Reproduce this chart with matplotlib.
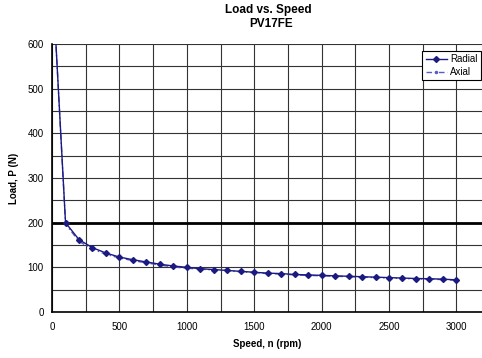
import matplotlib
matplotlib.use("Agg")
from matplotlib import pyplot as plt

plt.rcParams["font.family"] = ["Liberation Sans", "DejaVu Sans"]

speed = [20, 100, 200, 300, 400, 500, 600, 700, 800, 900, 1000,
         1100, 1200, 1300, 1400, 1500, 1600, 1700, 1800, 1900, 2000,
         2100, 2200, 2300, 2400, 2500, 2600, 2700, 2800, 2900, 3000]
radial = [650, 200, 162, 144, 132, 123, 117, 112, 107, 103, 100,
          97, 95, 93, 91, 89, 87, 86, 84, 83, 82,
          81, 80, 79, 78, 77, 76, 75, 74.5, 73.5, 72]
axial = [650, 197, 158, 141, 129, 121, 115, 110, 105, 101, 98,
         96, 94, 92, 90, 88, 86, 85, 83, 82, 81,
         80, 79, 78, 77, 76, 75, 74, 73.5, 72.5, 71]

fig = plt.figure(figsize=(4.82, 3.58), dpi=100)
ax = fig.add_axes([0.108, 0.1285, 0.892, 0.7485])

ax.plot(speed, axial, linestyle=(0, (4, 2, 1, 2)), color="#5a5ac8", lw=1.0,
        marker="o", markersize=1.5, label="Axial", zorder=3)
ax.plot(speed, radial, "-", color="#1a1a80", lw=1.0,
        marker="D", markersize=3, label="Radial", zorder=4)

ax.set_xlim(0, 3190)
ax.set_ylim(0, 600)
ax.set_xticks(range(0, 3001, 500))
ax.set_xticks(range(0, 3190, 250), minor=True)
ax.set_yticks(range(0, 601, 100))
ax.set_yticks(range(0, 601, 50), minor=True)
ax.grid(True, which="both", color="#333333", lw=0.8)
ax.axhline(200, color="black", lw=2, zorder=2)
ax.tick_params(which="minor", length=0)
ax.tick_params(which="major", length=0, labelsize=7)
ax.tick_params(axis="x", pad=7)
ax.tick_params(axis="y", pad=6)

for s in ["top", "right"]:
    ax.spines[s].set_visible(False)
for s in ["left", "bottom"]:
    ax.spines[s].set_linewidth(1.2)

ax.set_xlabel("Speed, n (rpm)", fontsize=7, fontweight="bold", labelpad=5)
ax.set_ylabel("Load, P (N)", fontsize=7, fontweight="bold", labelpad=6)
fig.text(0.557, 0.972, "Load vs. Speed", fontsize=8.5, fontweight="bold",
         ha="center", va="center")
fig.text(0.562, 0.933, "PV17FE", fontsize=8.5, fontweight="bold",
         ha="center", va="center")

handles, labels = ax.get_legend_handles_labels()
leg = ax.legend(handles[::-1], labels[::-1], loc="upper right",
                bbox_to_anchor=(0.997, 0.975), borderaxespad=0, fontsize=7,
                fancybox=False, framealpha=1, edgecolor="black",
                handlelength=2.2, borderpad=0.35, labelspacing=0.3,
                handletextpad=0.3)
leg.get_frame().set_linewidth(0.8)

fig.savefig("out.png", dpi=100)
